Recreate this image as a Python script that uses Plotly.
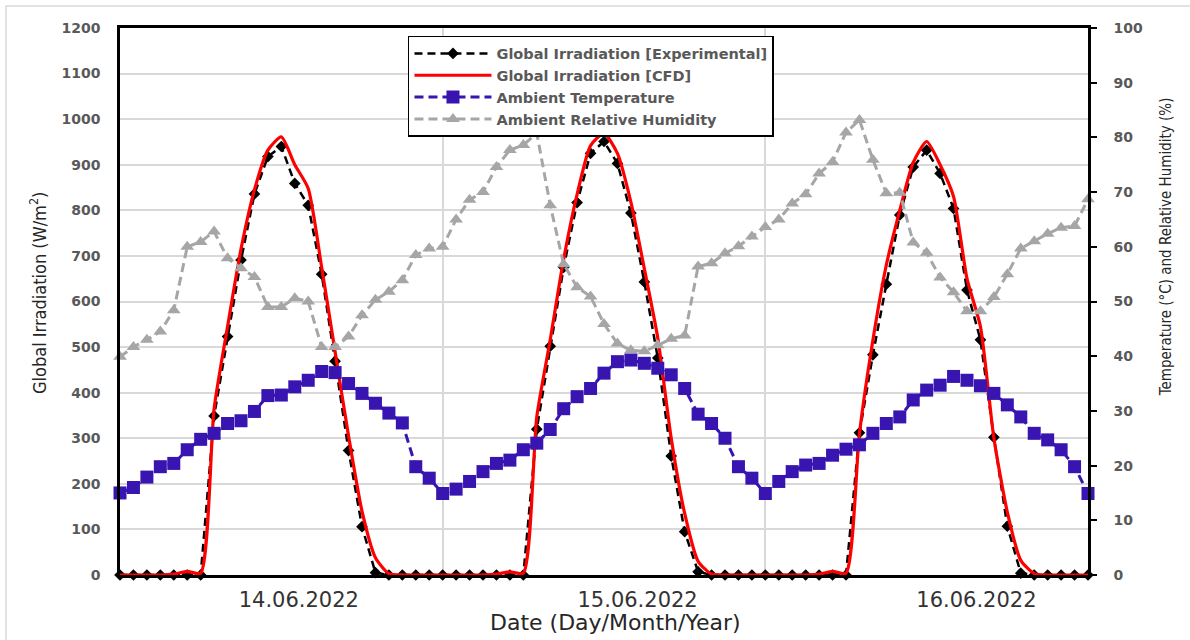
import plotly.graph_objects as go

# hour index (3 days, hourly, 73 samples)
hours = list(range(73))

irr_exp = [0, 0, 0, 0, 0, 0, 0, 349, 523, 691, 836, 918, 940, 859, 811, 660, 469, 273, 106, 5,
           0, 0, 0, 0, 0, 0, 0, 0, 0, 0, 0, 320, 502, 675, 817, 925, 951, 903, 794, 643, 476, 261, 95, 7,
           0, 0, 0, 0, 0, 0, 0, 0, 0, 0, 0, 312, 483, 638, 790, 895, 932, 881, 804, 625, 516, 302, 107, 4,
           0, 0, 0, 0, 0]

irr_cfd = [0, 0, 0, 0, 2, 8, 4, 365, 545, 715, 845, 932, 961, 900, 848, 675, 490, 305, 140, 38,
           3, 0, 0, 0, 0, 0, 0, 0, 2, 7, 4, 347, 516, 693, 835, 942, 969, 925, 818, 672, 520, 300, 135, 30,
           2, 0, 0, 0, 0, 0, 0, 0, 2, 8, 4, 310, 515, 680, 800, 905, 951, 900, 830, 650, 545, 300, 138, 32,
           3, 0, 0, 0, 0]

temp = [15.0, 16.0, 17.9, 19.8, 20.4, 22.9, 24.8, 25.9, 27.7, 28.2, 29.9, 32.8, 32.9, 34.4, 35.6, 37.2,
        37.0, 35.0, 33.2, 31.4, 29.6, 27.8, 19.8, 17.7,
        14.9, 15.7, 17.1, 18.9, 20.4, 21.0, 22.9, 24.1, 26.6, 30.4, 32.6, 34.1, 36.9, 39.0, 39.3, 38.7,
        37.8, 36.6, 34.1, 29.4, 27.7, 25.0, 19.8, 17.7,
        14.9, 17.1, 18.9, 20.1, 20.4, 21.9, 23.0, 23.8, 25.9, 27.7, 28.9, 32.0, 33.8, 34.7, 36.3, 35.6,
        34.6, 33.2, 31.1, 28.9, 25.9, 24.7, 22.9, 19.8, 14.9]

rh = [39.9, 41.7, 43.0, 44.5, 48.4, 60.0, 60.9, 62.8, 57.9, 56.1, 54.5, 49.0, 49.0, 50.6, 50.0, 41.7,
      41.7, 43.6, 47.5, 50.3, 51.8, 53.9, 58.5, 59.7,
      60.0, 65.0, 68.6, 70.0, 74.6, 77.7, 78.6, 80.8, 67.6, 56.8, 52.6, 50.9, 45.9, 42.3, 41.1, 40.9,
      42.0, 43.2, 43.8, 56.4, 57.0, 58.8, 60.1, 61.9,
      63.6, 65.0, 67.9, 69.6, 73.4, 75.5, 80.9, 83.2, 75.9, 69.8, 69.9, 60.8, 58.9, 54.4, 51.7, 48.2,
      48.2, 50.8, 55.0, 59.7, 61.0, 62.4, 63.5, 63.8, 68.7]

date_labels = ["14.06.2022", "15.06.2022", "16.06.2022"]
date_label_pos = [13.3, 38.5, 63.7]
day_boundaries = [24, 48]

PURPLE = "#3814B0"
GREY = "#A6A6A6"
DASH = "9px,5px"

fig = go.Figure()

fig.add_trace(go.Scatter(
    x=hours, y=rh, name="Ambient Relative Humidity", yaxis="y2", legendrank=4,
    mode="lines+markers", line=dict(color=GREY, width=3, dash=DASH),
    marker=dict(symbol="triangle-up", size=12, color=GREY), cliponaxis=False))

fig.add_trace(go.Scatter(
    x=hours, y=temp, name="Ambient Temperature", yaxis="y2", legendrank=3,
    mode="lines+markers", line=dict(color=PURPLE, width=3, dash=DASH),
    marker=dict(symbol="square", size=13, color=PURPLE), cliponaxis=False))

fig.add_trace(go.Scatter(
    x=hours, y=irr_exp, name="Global Irradiation [Experimental]", legendrank=1,
    mode="lines+markers", line=dict(color="black", width=2.5, dash="8px,5px"),
    marker=dict(symbol="diamond", size=9, color="black"), cliponaxis=False))

fig.add_trace(go.Scatter(
    x=hours, y=irr_cfd, name="Global Irradiation [CFD]", legendrank=2,
    mode="lines", line=dict(color="#FF0000", width=3.2, shape="spline", smoothing=0.6)))

tick_font = dict(family="DejaVu Sans", size=14, color="#595959", weight="bold")

fig.update_layout(
    width=1190, height=640,
    margin=dict(l=120, r=102, t=28, b=65),
    paper_bgcolor="white", plot_bgcolor="white",
    showlegend=True,
    legend=dict(x=0.2975, y=0.9854, xanchor="left", yanchor="top",
                bgcolor="white", bordercolor="black", borderwidth=1.5,
                font=dict(family="DejaVu Sans", size=14.5, color="#595959", weight="bold"),
                itemwidth=77, traceorder="normal"),
    xaxis=dict(range=[0, 72], showgrid=False, zeroline=False,
               tickmode="array", tickvals=date_label_pos, ticktext=date_labels,
               ticks="", ticklabelstandoff=4,
               tickfont=dict(family="DejaVu Sans", size=21, color="#333333"),
               showline=True, linecolor="black", linewidth=2.5, mirror=True,
               minor=dict(tickmode="array", tickvals=day_boundaries, showgrid=True,
                          gridcolor="#D9D9D9", gridwidth=1.5, ticks="")),
    yaxis=dict(range=[0, 1200], dtick=100, showgrid=True, gridcolor="#D9D9D9", gridwidth=1.5,
               zeroline=False, showline=True, linecolor="black", linewidth=2.5,
               ticks="", ticklabelstandoff=14, tickfont=tick_font),
    yaxis2=dict(range=[0, 100], dtick=10, overlaying="y", side="right", showgrid=False,
                zeroline=False, showline=True, linecolor="black", linewidth=2.5,
                ticks="outside", ticklen=6, tickwidth=2, tickcolor="black",
                ticklabelstandoff=14, tickfont=tick_font),
    annotations=[
        dict(text="Date (Day/Month/Year)", xref="paper", yref="paper", x=0.5119, y=-0.086,
             xanchor="center", yanchor="middle", showarrow=False,
             font=dict(family="DejaVu Sans", size=22, color="#262626")),
        dict(text="Global Irradiation (W/m<sup>2</sup>)", xref="paper", yref="paper",
             x=-0.0847, y=0.5155, textangle=-90, xanchor="center", yanchor="middle",
             showarrow=False, font=dict(family="Liberation Sans Narrow, DejaVu Sans Condensed, Arial Narrow", size=18, color="#262626")),
        dict(text="Temperature (°C) and Relative Humidity (%)", xref="paper", yref="paper",
             x=1.0805, y=0.601, textangle=-90, xanchor="center", yanchor="middle",
             showarrow=False, font=dict(family="Liberation Sans Narrow, DejaVu Sans Condensed, Arial Narrow", size=15, color="#262626")),
    ],
    shapes=[dict(type="rect", xref="paper", yref="paper", x0=-0.1178, x1=1.11, y0=-0.13, y1=1.0402,
                 line=dict(color="#D9D9D9", width=1.5), fillcolor="rgba(0,0,0,0)", layer="below")],
)

fig.write_html("out.html")
